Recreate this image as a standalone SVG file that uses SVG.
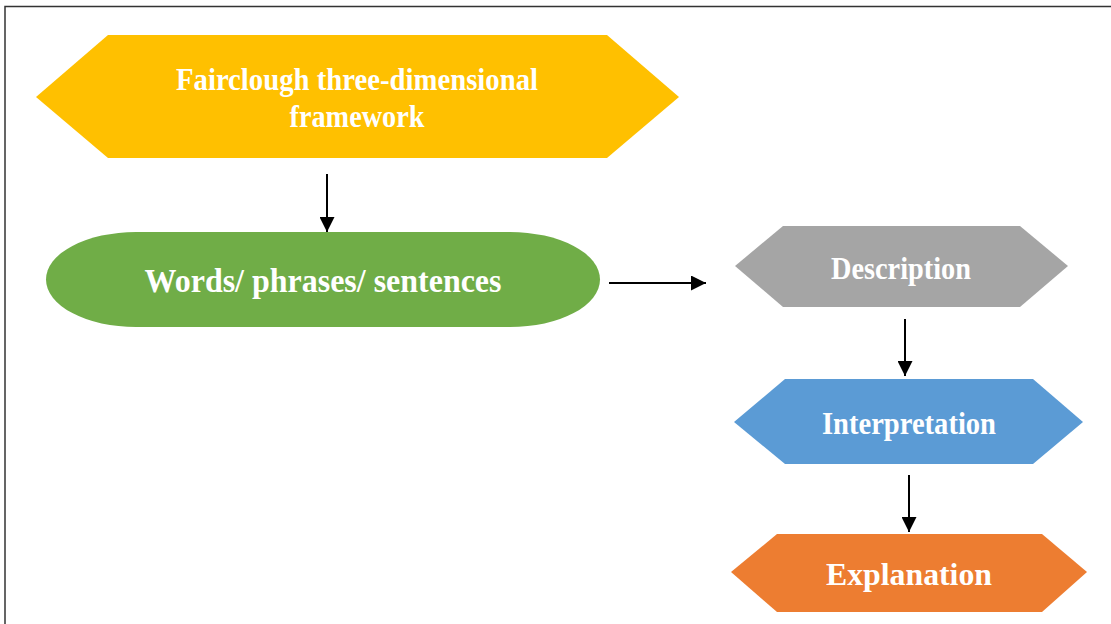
<svg xmlns="http://www.w3.org/2000/svg" width="1111" height="624" viewBox="0 0 1111 624">
<style>
.lbl{font-family:"Liberation Serif","Times New Roman",serif;font-weight:bold;font-size:32px;fill:#ffffff;text-anchor:middle}
.conn{stroke:#000;stroke-width:2;fill:none}
</style>
<defs>
<marker id="ah" viewBox="0 0 10 10" refX="10" refY="5" markerWidth="7.5" markerHeight="7.5" markerUnits="strokeWidth" orient="auto">
<path d="M0,0 L10,5 L0,10 z" fill="#000"/>
</marker>
</defs>
<rect width="1111" height="624" fill="#fff"/>
<path d="M1111,6.5 H5 V624" stroke="#333" stroke-width="1.5" fill="none"/>
<g id="fairclough">
<polygon points="36,97 108,35 607,35 679,97 607,158 108,158" fill="#FFC000"/>
<text class="lbl" x="357" y="90" textLength="362" lengthAdjust="spacingAndGlyphs">Fairclough three-dimensional</text>
<text class="lbl" x="357" y="127" textLength="135" lengthAdjust="spacingAndGlyphs">framework</text>
</g>
<g id="words">
<rect x="46" y="232" width="554" height="95" rx="90" ry="47.5" fill="#70AD47"/>
<text class="lbl" x="323" y="292" textLength="357" lengthAdjust="spacingAndGlyphs" style="font-size:34px">Words/ phrases/ sentences</text>
</g>
<g id="description">
<polygon points="735,266 783,226 1020,226 1068,266 1020,307 783,307" fill="#A5A5A5"/>
<text class="lbl" x="901" y="279" textLength="140" lengthAdjust="spacingAndGlyphs">Description</text>
</g>
<g id="interpretation">
<polygon points="734,422 785,379 1033,379 1083,422 1033,464 785,464" fill="#5B9BD5"/>
<text class="lbl" x="909" y="434" textLength="174" lengthAdjust="spacingAndGlyphs">Interpretation</text>
</g>
<g id="explanation">
<polygon points="731,572 777,534 1042,534 1087,572 1042,612 777,612" fill="#ED7D31"/>
<text class="lbl" x="909" y="585" textLength="166" lengthAdjust="spacingAndGlyphs">Explanation</text>
</g>
<g id="connectors">
<line class="conn" x1="327" y1="174" x2="327" y2="232" marker-end="url(#ah)"/>
<line class="conn" x1="609" y1="283" x2="706" y2="283" marker-end="url(#ah)"/>
<line class="conn" x1="905" y1="319" x2="905" y2="376" marker-end="url(#ah)"/>
<line class="conn" x1="909" y1="475" x2="909" y2="532" marker-end="url(#ah)"/>
</g>
</svg>
